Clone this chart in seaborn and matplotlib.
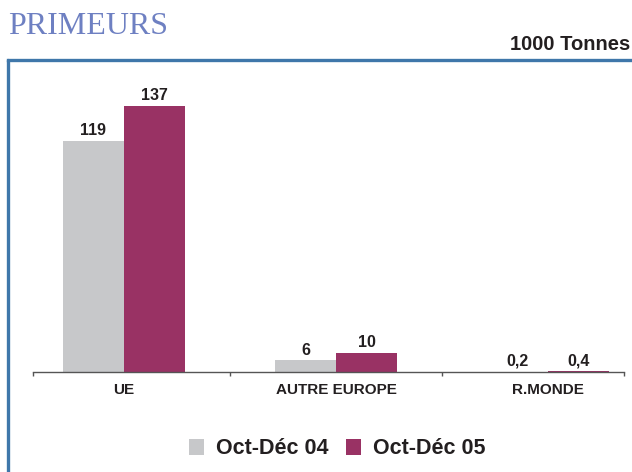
import matplotlib
matplotlib.use("Agg")
import matplotlib.pyplot as plt
import pandas as pd
import seaborn as sns

# values in 1000 tonnes
regions = ["UE", "AUTRE EUROPE", "R.MONDE"]
periods = ["Oct-Déc 04", "Oct-Déc 05"]
oct_dec_04 = [119, 6, 0.2]
oct_dec_05 = [137, 10, 0.4]

colors = ["#c7c8ca", "#993264"]
frame_color = "#3f77aa"
text_color = "#231f20"

df = pd.DataFrame({
    "region": regions * 2,
    "period": [periods[0]] * 3 + [periods[1]] * 3,
    "value": oct_dec_04 + oct_dec_05,
})

sns.set_style("white")
plt.rcParams["font.family"] = ["Liberation Sans", "DejaVu Sans"]

W, H = 632, 472
fig = plt.figure(figsize=(W / 100, H / 100), dpi=100)
ax = fig.add_axes([33 / W, 100 / H, (624 - 33) / W, (372 - 60) / H])

sns.barplot(
    df, x="region", y="value", hue="period",
    palette=colors, width=0.575, saturation=1, linewidth=0, ax=ax
)

ax.set_xlim(-0.429, 2.358)
ax.set_ylim(0, 160.7)

for container in ax.containers:
    labels = [f"{v:g}".replace(".", ",") for v in container.datavalues]
    ax.bar_label(container, labels=labels, padding=2, fontsize=11.5,
                 fontweight="bold", color=text_color)

for side in ["top", "right", "left"]:
    ax.spines[side].set_visible(False)
ax.spines["bottom"].set_color("#555555")
ax.spines["bottom"].set_linewidth(1)
ax.set_yticks([])
ax.set_xlabel(None)
ax.set_ylabel(None)

n = len(regions)
lo, hi = ax.get_xlim()
ax.set_xticks([lo] + [i + 0.5 for i in range(n - 1)] + [hi], minor=True)
ax.tick_params(axis="x", which="minor", bottom=True, direction="out",
               length=3, width=1, color="#555555")
ax.tick_params(axis="x", which="major", length=0, pad=8)
for label in ax.get_xticklabels():
    label.set_fontweight("bold")
    label.set_fontsize(11)
    label.set_color(text_color)

sns.move_legend(
    ax, "center", bbox_to_anchor=(337 / W, 23 / H),
    bbox_transform=fig.transFigure, ncol=2, frameon=False, title=None,
    fontsize=15.5, handlelength=0.7, handleheight=0.7,
    handletextpad=0.55, columnspacing=0.8, borderpad=0,
)
for txt in ax.get_legend().get_texts():
    txt.set_fontweight("bold")
    txt.set_color(text_color)

# title and unit
fig.text(8 / W, 1 - 27 / H, "PRIMEURS", family="Liberation Serif",
         fontsize=23, color="#6e80c2", va="center", ha="left")
fig.text(630 / W, 1 - 44 / H, "1000 Tonnes", fontsize=14.5,
         fontweight="bold", color=text_color, va="center", ha="right")

# frame on the left and top
fig.add_artist(plt.Line2D([8 / W, 8 / W], [0, 1 - 60 / H],
                          transform=fig.transFigure, color=frame_color,
                          lw=2.4))
fig.add_artist(plt.Line2D([8 / W, 1], [1 - 60 / H, 1 - 60 / H],
                          transform=fig.transFigure, color=frame_color,
                          lw=2.4, solid_capstyle="projecting"))

fig.savefig("out.png", dpi=100)
plt.close(fig)
